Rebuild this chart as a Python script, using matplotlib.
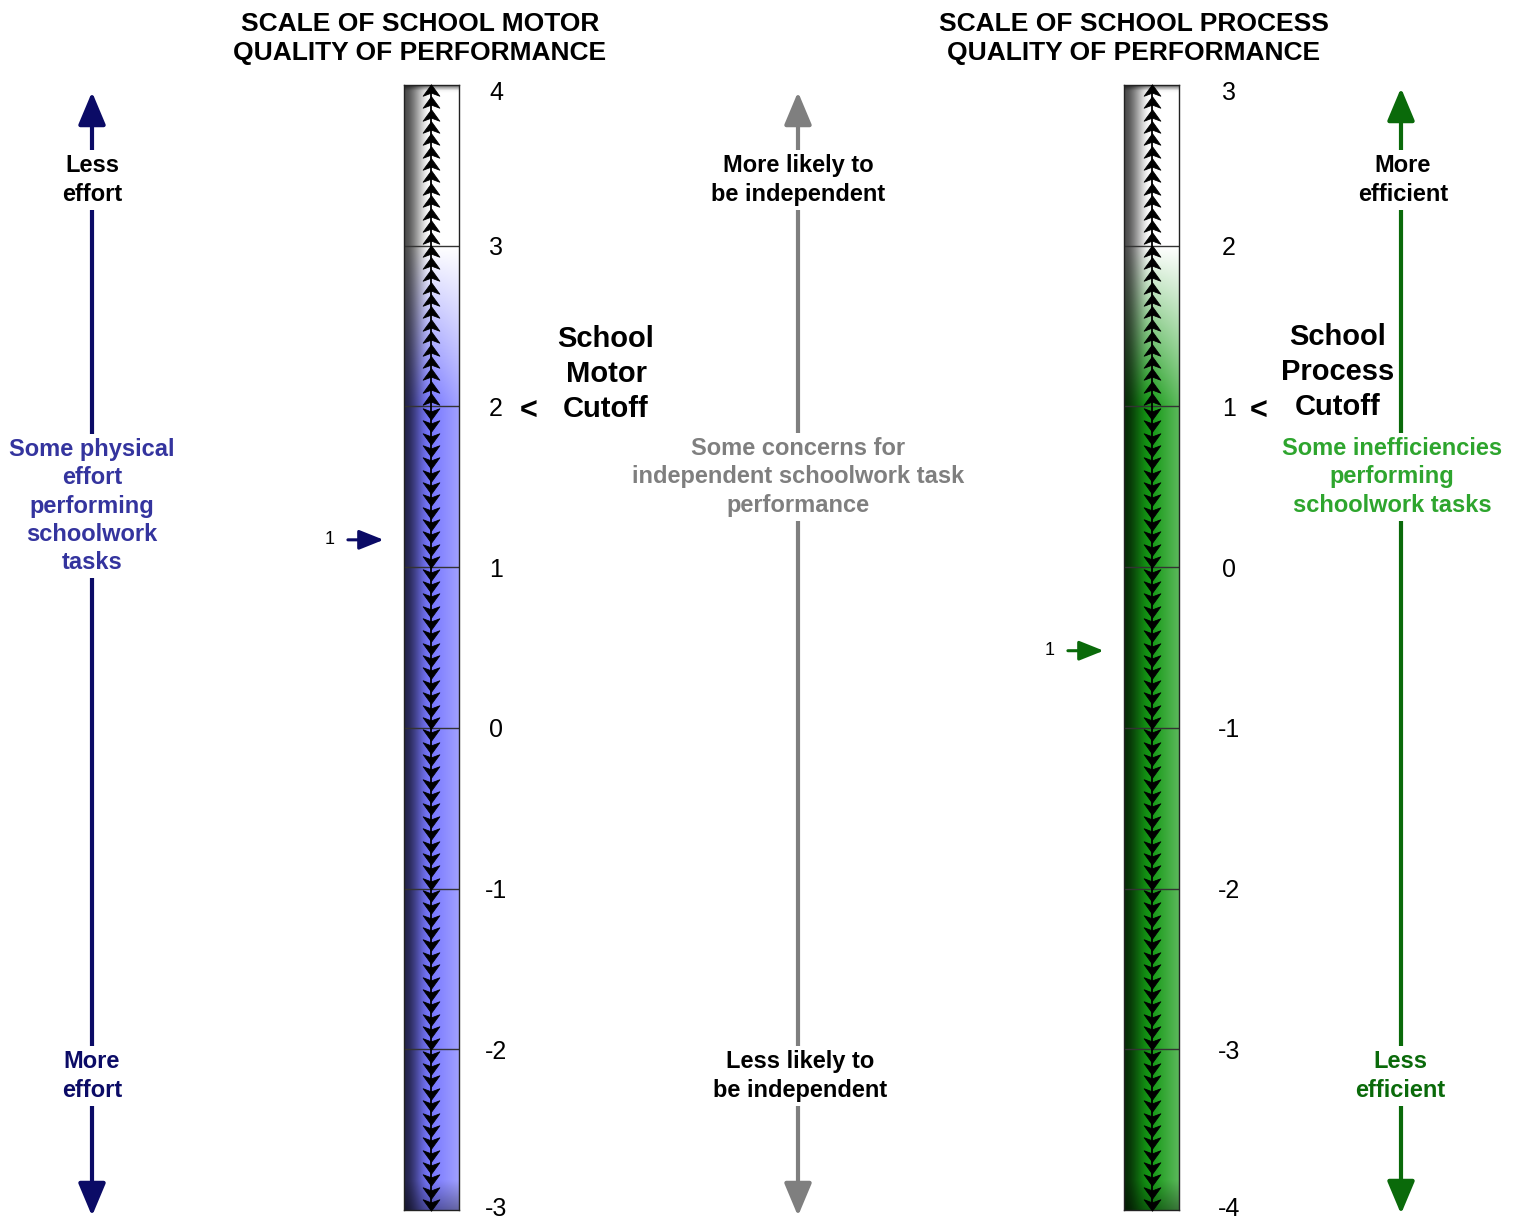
import matplotlib.pyplot as plt
import numpy as np
from matplotlib.path import Path
from matplotlib.patches import ArrowStyle
from matplotlib.transforms import ScaledTranslation

plt.rcParams["font.family"] = ["Liberation Sans", "DejaVu Sans"]

W, H = 1522, 1219

# scale data
motor_ticks = [-3, -2, -1, 0, 1, 2, 3, 4]
motor_cutoff = 2
motor_score = 1.17
process_ticks = [-4, -3, -2, -1, 0, 1, 2, 3]
process_cutoff = 1
process_score = -0.52

motor_title = "SCALE OF SCHOOL MOTOR\nQUALITY OF PERFORMANCE"
process_title = "SCALE OF SCHOOL PROCESS\nQUALITY OF PERFORMANCE"

NAVY = "#0b0b66"
NAVY_MID = "#34349e"
GRAY = "#7f7f7f"
GREEN_DARK = "#0a6a0a"
GREEN_MID = "#2ea52e"

UP = Path([(0, 0.55), (0.8, -0.55), (0, -0.25), (-0.8, -0.55), (0, 0.55)],
          [Path.MOVETO, Path.LINETO, Path.LINETO, Path.LINETO, Path.CLOSEPOLY])
DOWN = Path([(0, -0.55), (0.8, 0.55), (0, 0.25), (-0.8, 0.55), (0, -0.55)],
            [Path.MOVETO, Path.LINETO, Path.LINETO, Path.LINETO, Path.CLOSEPOLY])


def bar_image(lo, hi, cutoff, base, ny=500, nx=80):
    """vertical white->colour blend times a horizontal 'cylinder' shading"""
    yy = np.linspace(hi, lo, ny)
    xx = np.linspace(0, 1, nx)
    t = np.clip((cutoff + 1 - yy), 0, 1)[:, None, None]
    base = np.array(base)[None, None, :]
    col = (1 - t) * np.ones(3)[None, None, :] + t * base
    col = np.repeat(col, nx, axis=1)
    left = np.clip(xx / 0.5, 0, 1)
    shade = 0.3 + 0.7 * (3 * left ** 2 - 2 * left ** 3)
    light = np.clip((xx - 0.5) / 0.5, 0, 1) * 0.3
    col = col * shade[None, :, None]
    col = col + (1 - col) * light[None, :, None]
    # darker near bottom edge and very top
    bot = np.clip((yy - lo) / 0.18, 0, 1)
    col = col * (0.65 + 0.35 * bot)[:, None, None]
    top = np.clip((hi - yy) / 0.03, 0, 1)
    col = col * (0.5 + 0.5 * top)[:, None, None]
    return np.clip(col, 0, 1)


def draw_scale(fig, left_px, ticks, cutoff, base, score, score_color, pad_px):
    lo, hi = min(ticks), max(ticks)
    ax = fig.add_axes([left_px / W, (H - 1210) / H, 55 / W, 1125 / H])
    ax.imshow(bar_image(lo, hi, cutoff, base), extent=(0, 1, lo, hi),
              aspect="auto", origin="upper", interpolation="bilinear")
    ax.set_xlim(0, 1)
    ax.set_ylim(lo, hi)
    for v in ticks[1:-1]:
        ax.axhline(v, color="#333333", lw=1)
    for s in ax.spines.values():
        s.set_color("#222222")
        s.set_linewidth(1)

    # chain of arrows
    step = 1 / 13
    ax.plot([0.5, 0.5], [lo, hi], color="black", lw=1.3, zorder=3)
    up_y = np.arange(hi - step * 0.4, cutoff - step * 0.3, -step)
    down_y = np.arange(lo + step * 0.4, cutoff - step * 0.2, step)
    ax.plot(np.full(len(up_y), 0.5), up_y, ls="none", marker=UP, ms=12, mew=0.6,
            color="black", zorder=4, clip_on=False)
    ax.plot(np.full(len(down_y), 0.5), down_y, ls="none", marker=DOWN, ms=12, mew=0.6,
            color="black", zorder=4, clip_on=False)

    ax.set_xticks([])
    ax.yaxis.tick_right()
    ax.set_yticks(ticks)
    ax.set_yticklabels([str(t) for t in ticks], ha="center")
    ax.tick_params(axis="y", length=0, pad=pad_px * 0.72, labelsize=18)
    labels = ax.get_yticklabels()
    labels[0].set_transform(labels[0].get_transform()
                            + ScaledTranslation(0, 4 / 100, fig.dpi_scale_trans))
    labels[-1].set_transform(labels[-1].get_transform()
                             + ScaledTranslation(0, -6 / 100, fig.dpi_scale_trans))

    # pupil score marker
    ax.annotate("", xy=(-0.37, score), xytext=(-1.02, score),
                arrowprops=dict(arrowstyle=ArrowStyle("-|>", head_length=0.75, head_width=0.3),
                                color=score_color, lw=2.2, mutation_scale=20,
                                shrinkA=0, shrinkB=0),
                annotation_clip=False)
    ax.text(-1.35, score, "1", ha="center", va="center", fontsize=13)
    return ax


fig = plt.figure(figsize=(W / 100, H / 100), dpi=100)

lay = fig.add_axes([0, 0, 1, 1])
lay.set_xlim(0, W)
lay.set_ylim(H, 0)
lay.axis("off")

draw_scale(fig, 404, motor_ticks, motor_cutoff, (0.47, 0.47, 1.0), motor_score, NAVY, 37)
draw_scale(fig, 1124, process_ticks, process_cutoff, (0.08, 0.6, 0.08), process_score, GREEN_DARK, 50)

big = ArrowStyle("<|-|>", head_length=1.0, head_width=0.42)
for x, y0, y1, c in [(92, 92, 1216, NAVY), (798, 92, 1216, GRAY), (1401, 88, 1214, GREEN_DARK)]:
    lay.annotate("", xy=(x, y0), xytext=(x, y1),
                 arrowprops=dict(arrowstyle=big, color=c, lw=3.0, mutation_scale=20,
                                 shrinkA=0, shrinkB=0))

wb = dict(facecolor="white", edgecolor="none", pad=3)
lbl = dict(ha="center", va="center", fontsize=17, fontweight="bold", bbox=wb,
           linespacing=1.29)

lay.text(420, 38.5, motor_title, ha="center", va="center", fontsize=19,
         fontweight="bold", linespacing=1.27)
lay.text(1134, 38.5, process_title, ha="center", va="center", fontsize=19,
         fontweight="bold", linespacing=1.27)

lay.text(92, 180, "Less\neffort", color="black", **lbl)
lay.text(92, 506, "Some physical\neffort\nperforming\nschoolwork\ntasks", color=NAVY_MID, **lbl)
lay.text(92, 1076, "More\neffort", color=NAVY, **lbl)

lay.text(798, 180, "More likely to\nbe independent", color="black", **lbl)
lay.text(798, 477, "Some concerns for\nindependent schoolwork task\nperformance", color=GRAY, **lbl)
lay.text(800, 1076, "Less likely to\nbe independent", color="black", **lbl)

lay.text(1403, 180, "More\nefficient", color="black", **lbl)
lay.text(1392, 477, "Some inefficiencies\nperforming\nschoolwork tasks", color=GREEN_MID, **lbl)
lay.text(1400, 1076, "Less\nefficient", color=GREEN_DARK, **lbl)

lay.text(606, 374, "School\nMotor\nCutoff", ha="center", va="center", fontsize=21,
         fontweight="bold", linespacing=1.31)
lay.text(1338, 372, "School\nProcess\nCutoff", ha="center", va="center", fontsize=21,
         fontweight="bold", linespacing=1.31)
lay.text(529, 412, "<", ha="center", va="center", fontsize=22, fontweight="bold")
lay.text(1259, 412, "<", ha="center", va="center", fontsize=22, fontweight="bold")

fig.savefig("out.png", dpi=100)
